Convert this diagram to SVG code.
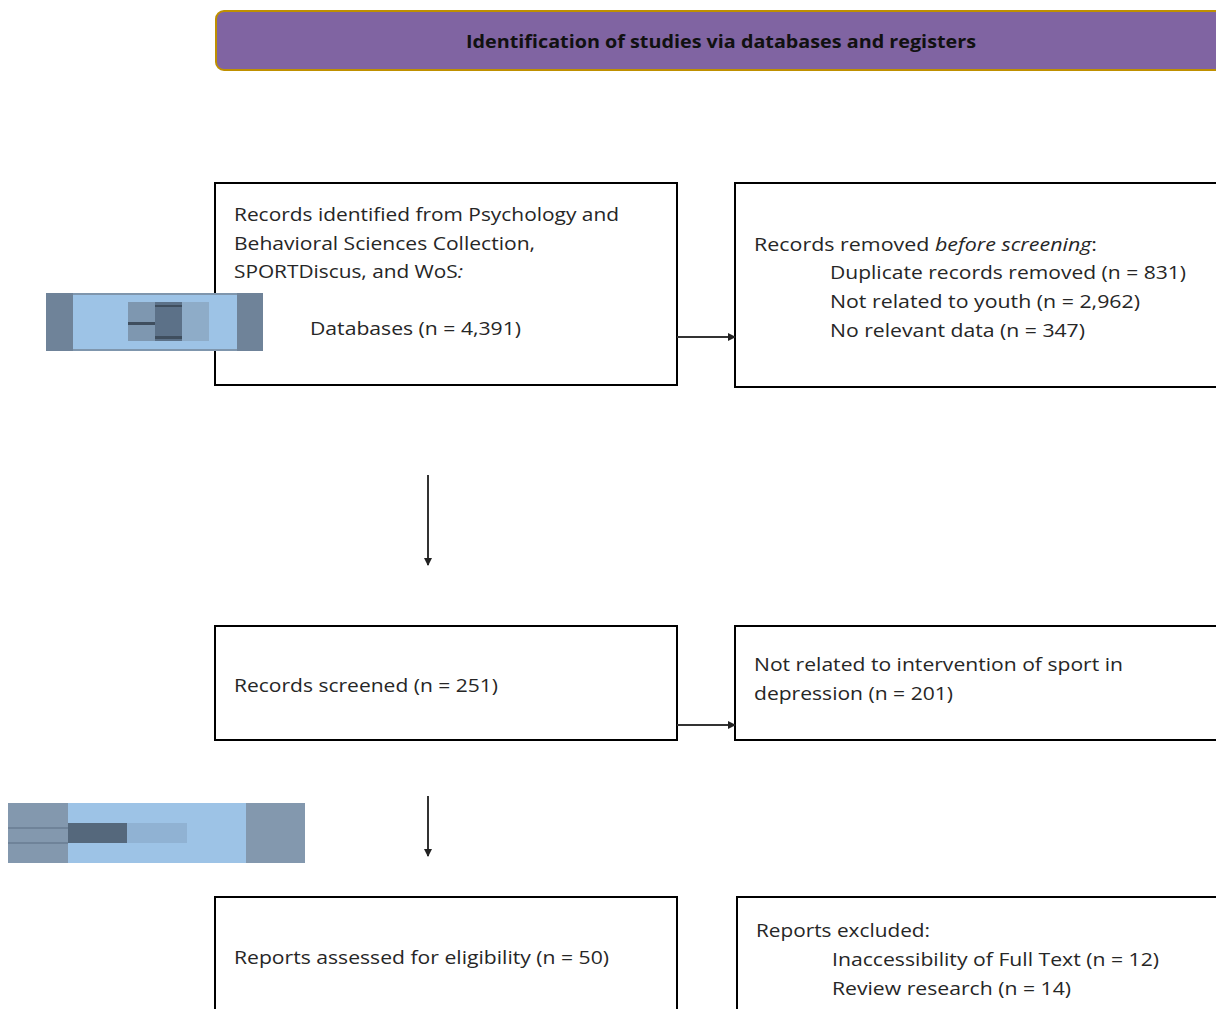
<svg xmlns="http://www.w3.org/2000/svg" width="1216" height="1009" viewBox="0 0 1216 1009">
<style>
.box{fill:#ffffff;stroke:#000000;stroke-width:2}
.t{font-family:"Open Sans","Liberation Sans",sans-serif;font-size:19px;fill:#262626}
.h{font-family:"Open Sans","Liberation Sans",sans-serif;font-size:18px;font-weight:bold;fill:#111111}
.c{stroke:#333333;stroke-width:2;fill:none}
</style>
<defs>
<marker id="ah" markerWidth="8" markerHeight="8" refX="7" refY="4" orient="auto" markerUnits="userSpaceOnUse">
<path d="M0,0 L8,4 L0,8 Z" fill="#222222"/>
</marker>
</defs>
<rect width="1216" height="1009" fill="#ffffff"/>
<g id="header">
<rect x="216" y="11" width="1010" height="59" rx="8" fill="#8064a2" stroke="#bf9000" stroke-width="2"/>
<text class="h" x="466" y="48" textLength="510" lengthAdjust="spacingAndGlyphs">Identification of studies via databases and registers</text>
</g>
<g id="box1">
<rect class="box" x="215" y="183" width="462" height="202"/>
<text class="t" x="234" y="221" textLength="385" lengthAdjust="spacingAndGlyphs">Records identified from Psychology and</text>
<text class="t" x="234" y="250" textLength="301" lengthAdjust="spacingAndGlyphs">Behavioral Sciences Collection,</text>
<text class="t" x="234" y="278" textLength="229" lengthAdjust="spacingAndGlyphs">SPORTDiscus, and WoS<tspan font-style="italic">:</tspan></text>
<text class="t" x="310" y="335" textLength="211" lengthAdjust="spacingAndGlyphs">Databases (n = 4,391)</text>
</g>
<g id="box2">
<rect class="box" x="735" y="183" width="495" height="204"/>
<text class="t" x="754" y="251" textLength="343" lengthAdjust="spacingAndGlyphs">Records removed <tspan font-style="italic">before screening</tspan>:</text>
<text class="t" x="830" y="279" textLength="356" lengthAdjust="spacingAndGlyphs">Duplicate records removed (n = 831)</text>
<text class="t" x="830" y="308" textLength="310" lengthAdjust="spacingAndGlyphs">Not related to youth (n = 2,962)</text>
<text class="t" x="830" y="337" textLength="255" lengthAdjust="spacingAndGlyphs">No relevant data (n = 347)</text>
</g>
<g id="box3">
<rect class="box" x="215" y="626" width="462" height="114"/>
<text class="t" x="234" y="692" textLength="264" lengthAdjust="spacingAndGlyphs">Records screened (n = 251)</text>
</g>
<g id="box4">
<rect class="box" x="735" y="626" width="495" height="114"/>
<text class="t" x="754" y="671" textLength="369" lengthAdjust="spacingAndGlyphs">Not related to intervention of sport in</text>
<text class="t" x="754" y="700" textLength="199" lengthAdjust="spacingAndGlyphs">depression (n = 201)</text>
</g>
<g id="box5">
<rect class="box" x="215" y="897" width="462" height="130"/>
<text class="t" x="234" y="964" textLength="375" lengthAdjust="spacingAndGlyphs">Reports assessed for eligibility (n = 50)</text>
</g>
<g id="box6">
<rect class="box" x="737" y="897" width="495" height="130"/>
<text class="t" x="756" y="937" textLength="174" lengthAdjust="spacingAndGlyphs">Reports excluded:</text>
<text class="t" x="832" y="966" textLength="327" lengthAdjust="spacingAndGlyphs">Inaccessibility of Full Text (n = 12)</text>
<text class="t" x="832" y="995" textLength="239" lengthAdjust="spacingAndGlyphs">Review research (n = 14)</text>
</g>
<g id="side1">
<rect x="46" y="293" width="217" height="58" fill="#6f8399"/>
<rect x="73" y="293" width="164" height="58" fill="#9dc3e6"/>
<rect x="73" y="293" width="164" height="2" fill="#7f96ad"/>
<rect x="73" y="349" width="164" height="2" fill="#7f96ad"/>
<rect x="128" y="302" width="27" height="39" fill="#7e97b0"/>
<rect x="155" y="302" width="27" height="39" fill="#5c7188"/>
<rect x="182" y="302" width="27" height="39" fill="#8eacc8"/>
<rect x="128" y="322" width="27" height="3" fill="#3f4e5e"/>
<rect x="155" y="305" width="27" height="2" fill="#3f4e5e"/>
<rect x="155" y="336" width="27" height="3" fill="#3f4e5e"/>
</g>
<g id="side2">
<rect x="8" y="803" width="297" height="60" fill="#8398ae"/>
<rect x="68" y="803" width="178" height="60" fill="#9dc3e6"/>
<rect x="68" y="823" width="59" height="20" fill="#55687c"/>
<rect x="127" y="823" width="60" height="20" fill="#90b2d3"/>
<rect x="8" y="827" width="60" height="2" fill="#6f8399"/>
<rect x="8" y="842" width="60" height="2" fill="#6f8399"/>
</g>
<g id="connectors">
<line class="c" x1="677" y1="337" x2="735" y2="337" marker-end="url(#ah)"/>
<line class="c" x1="428" y1="475" x2="428" y2="565" marker-end="url(#ah)"/>
<line class="c" x1="677" y1="725" x2="735" y2="725" marker-end="url(#ah)"/>
<line class="c" x1="428" y1="796" x2="428" y2="856" marker-end="url(#ah)"/>
</g>
</svg>
